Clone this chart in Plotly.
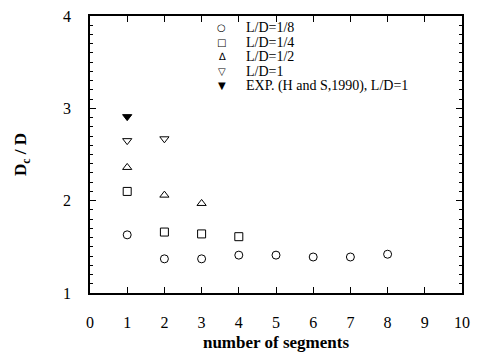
import plotly.graph_objects as go

seg_18 = [1, 2, 3, 4, 5, 6, 7, 8]
val_18 = [1.63, 1.37, 1.37, 1.41, 1.41, 1.39, 1.39, 1.42]
seg_14 = [1, 2, 3, 4]
val_14 = [2.10, 1.66, 1.64, 1.61]
seg_12 = [1, 2, 3]
val_12 = [2.36, 2.06, 1.97]
seg_1 = [1, 2]
val_1 = [2.65, 2.67]
seg_exp = [1]
val_exp = [2.91]

names = ["L/D=1/8", "L/D=1/4", "L/D=1/2", "L/D=1", "EXP. (H and S,1990), L/D=1"]
symbols = ["circle-open", "square-open", "triangle-up-open", "triangle-down-open", "triangle-down"]
legend_glyphs = ["○", "□", "∆", "▽", "▼"]
xs = [seg_18, seg_14, seg_12, seg_1, seg_exp]
ys = [val_18, val_14, val_12, val_1, val_exp]

font_fam = "Liberation Serif, Times New Roman, serif"
fig = go.Figure()
for x, y, n, s in zip(xs, ys, names, symbols):
    fig.add_trace(go.Scatter(x=x, y=y, mode="markers", name=n, showlegend=False,
                             marker=dict(symbol=s, size=8, color="black",
                                         line=dict(color="black", width=1))))

# manual compact legend (tight line spacing as in reference)
W, H = 478, 359
ml, mr, mt, mb = 90, 10, 8, 66
pw, ph = W - ml - mr, H - mt - mb
row_y = [20, 35, 50, 65, 80]
for g, n, py in zip(legend_glyphs, names, row_y):
    yp = 1 - (py - mt) / ph
    fig.add_annotation(xref="paper", yref="paper", x=(224 - ml) / pw, y=yp,
                       text=g, showarrow=False, xanchor="center", yanchor="middle",
                       borderpad=0,
                       font=dict(family="DejaVu Sans", size=10, color="black"))
    fig.add_annotation(xref="paper", yref="paper", x=(247 - ml) / pw, y=yp,
                       text=n, showarrow=False, xanchor="left", yanchor="middle",
                       borderpad=0,
                       font=dict(family=font_fam, size=14, color="black"))

fig.update_layout(
    width=W, height=H,
    margin=dict(l=ml, r=mr, t=mt, b=mb),
    paper_bgcolor="white", plot_bgcolor="white",
    font=dict(family=font_fam, size=16, color="black"),
    showlegend=False,
    xaxis=dict(range=[0, 10], dtick=1, tick0=0, showline=True, linecolor="black",
               linewidth=1.5, mirror="ticks", ticks="inside", ticklen=6,
               tickcolor="black", showgrid=False, zeroline=False,
               ticklabelstandoff=14,
               title=dict(text="<b>number of segments</b>", font=dict(size=17), standoff=6)),
    yaxis=dict(range=[1, 4], dtick=1, tick0=1, showline=True, linecolor="black",
               linewidth=1.5, mirror="ticks", ticks="inside", ticklen=6,
               tickcolor="black", showgrid=False, zeroline=False,
               ticklabelstandoff=14,
               minor=dict(ticks="inside", ticklen=3, dtick=0.1, tickcolor="black"),
               title=dict(text="<b>D<sub>c</sub> / D</b>", font=dict(size=17), standoff=32)),
)

fig.write_html("out.html")
